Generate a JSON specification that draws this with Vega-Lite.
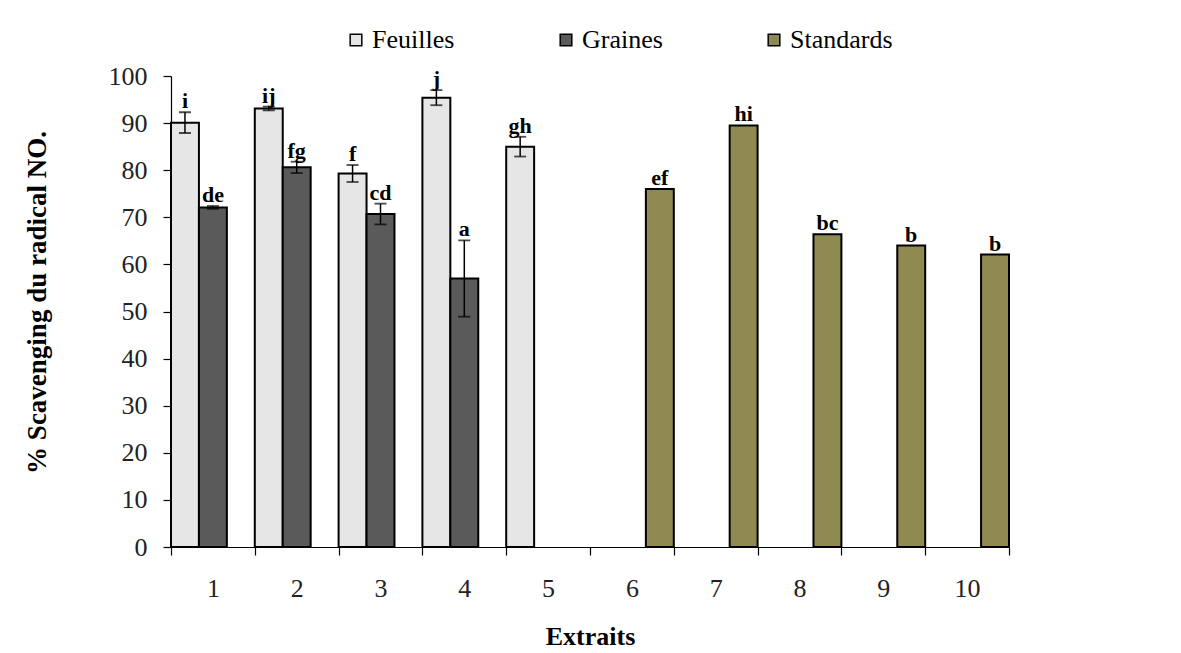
{
  "$schema": "https://vega.github.io/schema/vega-lite/v6.json",
  "autosize": "none",
  "width": 838,
  "height": 471,
  "padding": {"left": 171, "top": 76, "right": 172, "bottom": 106},
  "background": "white",
  "config": {
    "view": {"stroke": null},
    "font": "Liberation Serif"
  },
  "data": {
    "values": [
      {"extrait": "1", "serie": "Feuilles", "value": 90.1, "err": 2.2, "lo": 87.9, "hi": 92.3, "lettre": "i"},
      {"extrait": "1", "serie": "Graines", "value": 72.1, "err": 0.3, "lo": 71.8, "hi": 72.4, "lettre": "de"},
      {"extrait": "2", "serie": "Feuilles", "value": 93.1, "err": 0.4, "lo": 92.7, "hi": 93.5, "lettre": "ij"},
      {"extrait": "2", "serie": "Graines", "value": 80.6, "err": 1.2, "lo": 79.4, "hi": 81.8, "lettre": "fg"},
      {"extrait": "3", "serie": "Feuilles", "value": 79.3, "err": 1.8, "lo": 77.5, "hi": 81.1, "lettre": "f"},
      {"extrait": "3", "serie": "Graines", "value": 70.7, "err": 2.2, "lo": 68.5, "hi": 72.9, "lettre": "cd"},
      {"extrait": "4", "serie": "Feuilles", "value": 95.4, "err": 1.6, "lo": 93.8, "hi": 97.0, "lettre": "j"},
      {"extrait": "4", "serie": "Graines", "value": 57.0, "err": 8.1, "lo": 48.9, "hi": 65.1, "lettre": "a"},
      {"extrait": "5", "serie": "Feuilles", "value": 85.0, "err": 2.1, "lo": 82.9, "hi": 87.1, "lettre": "gh"},
      {"extrait": "6", "serie": "Standards", "value": 76.0, "err": 0, "lo": 76.0, "hi": 76.0, "lettre": "ef"},
      {"extrait": "7", "serie": "Standards", "value": 89.5, "err": 0, "lo": 89.5, "hi": 89.5, "lettre": "hi"},
      {"extrait": "8", "serie": "Standards", "value": 66.4, "err": 0, "lo": 66.4, "hi": 66.4, "lettre": "bc"},
      {"extrait": "9", "serie": "Standards", "value": 64.0, "err": 0, "lo": 64.0, "hi": 64.0, "lettre": "b"},
      {"extrait": "10", "serie": "Standards", "value": 62.1, "err": 0, "lo": 62.1, "hi": 62.1, "lettre": "b"}
    ]
  },
  "encoding": {
    "x": {
      "field": "extrait",
      "type": "ordinal",
      "sort": ["1", "2", "3", "4", "5", "6", "7", "8", "9", "10"],
      "scale": {"paddingInner": 0, "paddingOuter": 0},
      "axis": {
        "title": "Extraits",
        "titleFont": "Liberation Serif",
        "titleFontSize": 26,
        "titleFontWeight": "bold",
        "titleColor": "black",
        "titlePadding": 22,
        "labelFont": "Liberation Serif",
        "labelFontSize": 26,
        "labelColor": "#222",
        "labelAngle": 0,
        "labelPadding": 20,
        "tickBand": "extent",
        "tickSize": 8,
        "tickColor": "black",
        "domainColor": "black",
        "domainWidth": 1.2,
        "tickWidth": 1.2
      }
    },
    "xOffset": {
      "field": "serie",
      "type": "nominal",
      "sort": ["Feuilles", "Graines", "Standards"],
      "scale": {"domain": ["Feuilles", "Graines", "Standards"], "paddingInner": 0, "paddingOuter": 0}
    }
  },
  "layer": [
    {
      "mark": {"type": "bar", "stroke": "black", "strokeWidth": 2},
      "encoding": {
        "y": {
          "field": "value",
          "type": "quantitative",
          "scale": {"domain": [0, 100]},
          "axis": {
            "title": "% Scavenging du radical NO.",
            "titleFont": "Liberation Serif",
            "titleFontSize": 27,
            "titleFontWeight": "bold",
            "titleColor": "black",
            "titleY": 226,
            "titleX": -120,
            "values": [0, 10, 20, 30, 40, 50, 60, 70, 80, 90, 100],
            "grid": false,
            "labelFont": "Liberation Serif",
            "labelFontSize": 26,
            "labelColor": "#222",
            "labelPadding": 16,
            "tickSize": 8,
            "tickColor": "black",
            "tickWidth": 1.2,
            "domainColor": "black",
            "domainWidth": 1.2
          }
        },
        "fill": {
          "field": "serie",
          "type": "nominal",
          "scale": {"domain": ["Feuilles", "Graines", "Standards"], "range": ["#e6e6e6", "#5a5a5a", "#8f8a52"]},
          "legend": {
            "title": null,
            "orient": "none",
            "direction": "horizontal",
            "legendX": 172,
            "legendY": -49,
            "symbolType": "square",
            "symbolSize": 135,
            "symbolStrokeColor": "black",
            "symbolStrokeWidth": 1.5,
            "symbolOpacity": 1,
            "labelFont": "Liberation Serif",
            "labelFontSize": 26,
            "labelColor": "black",
            "labelOffset": 3,
            "columnPadding": 98
          }
        }
      }
    },
    {
      "transform": [{"filter": "datum.err > 0"}],
      "mark": {"type": "rule", "color": "black", "strokeWidth": 1.5},
      "encoding": {
        "y": {"field": "lo", "type": "quantitative"},
        "y2": {"field": "hi"}
      }
    },
    {
      "transform": [{"filter": "datum.err > 0"}],
      "mark": {"type": "tick", "color": "black", "thickness": 1.8, "size": 12},
      "encoding": {
        "y": {"field": "lo", "type": "quantitative"}
      }
    },
    {
      "transform": [{"filter": "datum.err > 0"}],
      "mark": {"type": "tick", "color": "black", "thickness": 1.8, "size": 12},
      "encoding": {
        "y": {"field": "hi", "type": "quantitative"}
      }
    },
    {
      "mark": {"type": "text", "font": "Liberation Serif", "fontSize": 22, "fontWeight": "bold", "color": "black", "baseline": "alphabetic", "dy": -4},
      "encoding": {
        "y": {"field": "hi", "type": "quantitative"},
        "text": {"field": "lettre"}
      }
    }
  ]
}
